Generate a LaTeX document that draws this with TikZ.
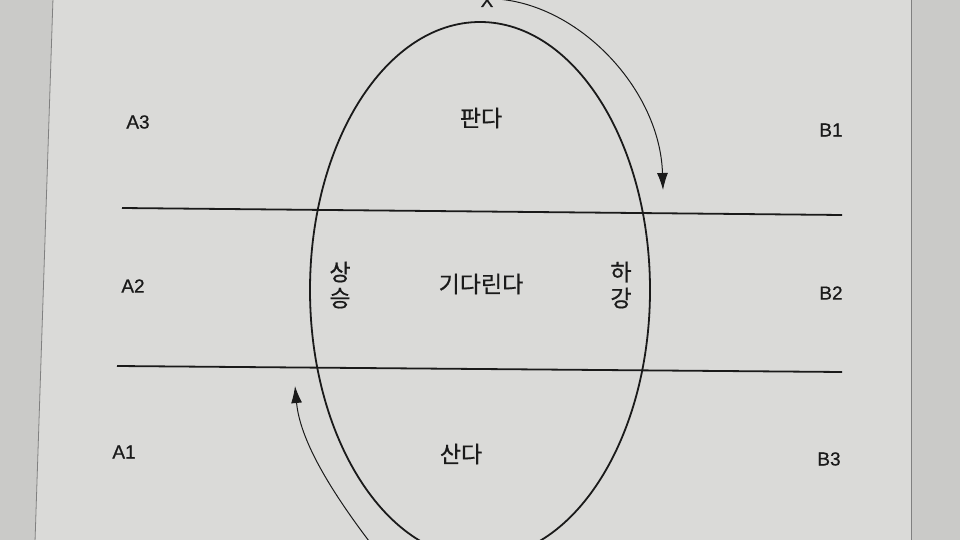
\documentclass[tikz,border=0pt]{standalone}
\usepackage{fontspec}
\setmainfont{Liberation Sans}[FakeBold=0.6]
\newfontfamily\kr{Noto Sans CJK KR}[FakeBold=0.6]
\usetikzlibrary{positioning,arrows.meta,shapes.geometric}

\definecolor{paper}{HTML}{DADAD8}
\definecolor{desk}{HTML}{CACAC8}
\definecolor{ink}{HTML}{1A1A1A}

\tikzset{
    lbl/.style={font=\fontsize{19}{22}\selectfont, text=ink},
    word/.style={font=\kr\fontsize{23}{26}\selectfont, text=ink},
    turn/.style={draw=ink, line width=1pt, -{Latex[length=17pt,width=11pt]}},
    band/.style={draw=ink, line width=1.8pt}
}

\begin{document}
\begin{tikzpicture}[x=1pt, y=-1pt]
\useasboundingbox (0,0) rectangle (960,540);
\clip (0,0) rectangle (960,540);
\fill[desk] (0,0) rectangle (960,540);
\fill[paper] (53,-2) -- (911,-2) -- (911,542) -- (35,542) -- cycle;
\draw[gray, line width=0.8pt] (53,-2) -- (35,542);
\draw[gray, line width=0.8pt] (911,-2) -- (911,542);

% cycle
\node[draw=ink, line width=1.8pt, ellipse, minimum width=340, minimum height=536,
    inner sep=0pt] (egg) at (480,290) {};

% bands
\coordinate (t1) at (122,208);
\coordinate (t2) at (842,215);
\coordinate (b1) at (117,366);
\coordinate (b2) at (842,372);
\draw[band] (t1) -- (t2);
\draw[band] (b1) -- (b2);

% left and right
\node[lbl] (a3) at (138,122) {A3};
\node[lbl] (a2) at (133,286) {A2};
\node[lbl] (a1) at (124,452) {A1};
\node[lbl] (b1l) at (831,130) {B1};
\node[lbl] (b2l) at (831,293) {B2};
\node[lbl] (b3l) at (829,459) {B3};

% inside
\node[word] (sell) at (481,118) {판다};
\node[word] (wait) at (481,284) {기다린다};
\node[word] (buy) at (461,454) {산다};
\node[word, align=center] (rise) at (340,285) {상\\승};
\node[word, align=center] (fall) at (621,285) {하\\강};

% top mark
\node[lbl, anchor=base] (x) at (487,7) {X};

% arrows
\coordinate (topstart) at (497,-1);
\coordinate (topend) at (663,190);
\draw[turn] (topstart) .. controls (580,5) and (660,90) .. (topend);
\coordinate (botstart) at (372,545);
\coordinate (botend) at (295,386);
\draw[turn] (botstart) .. controls (330,490) and (300,440) .. (botend);
\end{tikzpicture}
\end{document}
